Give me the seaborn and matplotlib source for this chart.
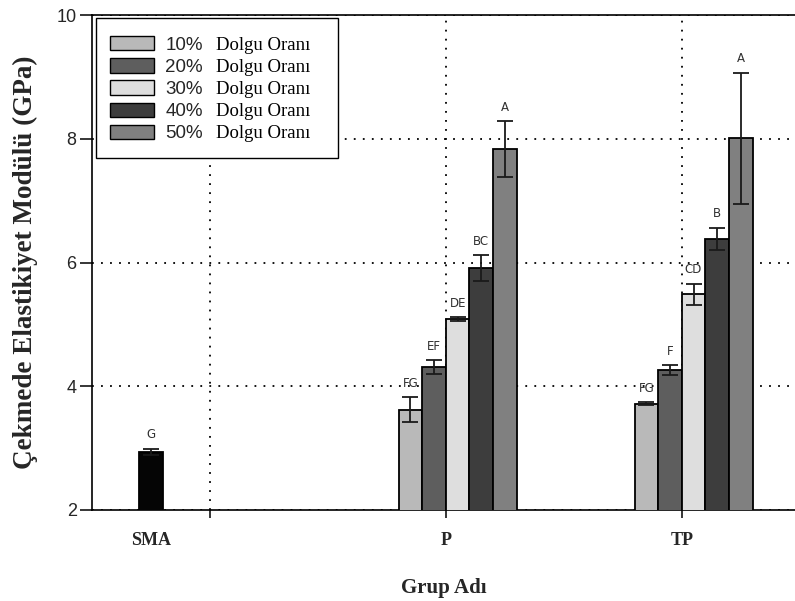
import matplotlib
matplotlib.use("Agg")
import matplotlib.pyplot as plt
from matplotlib.patches import Patch, Rectangle
import seaborn as sns
import pandas as pd

# ---------------- data ----------------
groups = ["SMA", "P", "TP"]
fill_levels = ["10%", "20%", "30%", "40%", "50%"]
fill_suffix = "Dolgu Oranı"

sma_value = [2.94]
sma_err = [0.05]
sma_letter = ["G"]

p_values = [3.62, 4.31, 5.09, 5.91, 7.83]
p_err = [0.20, 0.11, 0.03, 0.21, 0.45]
p_letters = ["FG", "EF", "DE", "BC", "A"]

tp_values = [3.72, 4.26, 5.49, 6.38, 8.01]
tp_err = [0.02, 0.08, 0.17, 0.18, 1.06]
tp_letters = ["FG", "F", "CD", "B", "A"]

y_ticks = [2, 4, 6, 8, 10]
x_label = "Grup Adı"
y_label = "Çekmede Elastikiyet Modülü (GPa)"

# ---------------- layout / style ----------------
group_start = {"SMA": 2.0, "P": 13.0, "TP": 23.0}   # left edge of first bar
group_label_pos = {"SMA": 2.5, "P": 15.0, "TP": 25.0}
minor_tick_pos = [5, 15, 25]
colors = {"SMA": "#050505", "10%": "#b9b9b9", "20%": "#5e5e5e",
          "30%": "#dedede", "40%": "#3d3d3d", "50%": "#808080"}

rows = []
rows.append(dict(group="SMA", level="SMA", x=group_start["SMA"] + 0.5,
                 value=sma_value[0], err=sma_err[0], letter=sma_letter[0]))
for g, vals, errs, lets in [("P", p_values, p_err, p_letters),
                            ("TP", tp_values, tp_err, tp_letters)]:
    for i, lev in enumerate(fill_levels):
        rows.append(dict(group=g, level=lev, x=group_start[g] + 0.5 + i,
                         value=vals[i], err=errs[i], letter=lets[i]))
df = pd.DataFrame(rows)

sns.set_theme(style="white")
plt.rcParams["font.family"] = ["Liberation Sans", "DejaVu Sans"]

W, H = 795, 601
fig = plt.figure(figsize=(7.95, 6.01), dpi=100)
ax_l, ax_b, ax_w, ax_h = 92, 91, 703, 495
ax = fig.add_axes([ax_l / W, ax_b / H, ax_w / W, ax_h / H])


def px_to_axes(xp, yp):
    """image pixel (from top-left) -> axes fraction"""
    return (xp - ax_l) / ax_w, ((H - yp) - ax_b) / ax_h


sns.barplot(data=df, x="x", y="value", hue="level",
            hue_order=["SMA"] + fill_levels, palette=colors,
            native_scale=True, dodge=False, width=1.0,
            edgecolor="black", linewidth=1.3, errorbar=None,
            legend=False, ax=ax, zorder=3)

ax.errorbar(df["x"], df["value"], yerr=df["err"], fmt="none",
            ecolor="#1a1a1a", elinewidth=1.3, capsize=5.5, capthick=1.3,
            zorder=4)

for _, r in df.iterrows():
    ax.annotate(r["letter"], (r["x"], r["value"] + r["err"]),
                xytext=(0, 10), textcoords="offset points",
                ha="center", va="center", fontsize=8.5,
                color="#303030", family=["DejaVu Sans"], zorder=5)

ax.set_xlim(0, 29.8)
ax.set_ylim(2, 10)
ax.set_yticks(y_ticks)
ax.set_yticklabels([str(t) for t in y_ticks], fontsize=13,
                   family=["Liberation Sans"])

ax.xaxis.remove_overlapping_locs = False
ax.set_xticks([group_label_pos[g] for g in groups])
ax.set_xticklabels(groups, fontsize=13, fontweight="bold",
                   family=["Liberation Serif"])
ax.set_xticks(minor_tick_pos, minor=True)
ax.tick_params(axis="x", which="major", length=0, pad=16)
ax.tick_params(axis="x", which="minor", length=6, width=1.1,
               direction="out", color="black", bottom=True)
ax.tick_params(axis="y", which="major", length=9, width=1.1,
               direction="out", color="black", left=True, pad=2)

ax.grid(False)
ax.yaxis.grid(True, which="major", linestyle=(0, (1, 4)),
              linewidth=1.3, color="black")
ax.xaxis.grid(True, which="minor", linestyle=(0, (1, 4)),
              linewidth=1.3, color="black")
ax.set_axisbelow(True)

for s in ["left", "bottom", "top"]:
    ax.spines[s].set_visible(True)
    ax.spines[s].set_color("black")
    ax.spines[s].set_linewidth(1.2)
ax.spines["right"].set_visible(False)

ax.set_xlabel(x_label, fontsize=15, fontweight="bold",
              family=["Liberation Serif"])
ax.xaxis.set_label_coords(0.5, -0.138)
ax.set_ylabel(y_label, fontsize=19.5, fontweight="bold",
              family=["Liberation Serif"])
ax.yaxis.set_label_coords(-0.077, 0.5)

# legend frame drawn as a box, legend entries without frame
fx0, fy0 = px_to_axes(96, 158)
fx1, fy1 = px_to_axes(338, 18)
ax.add_patch(Rectangle((fx0, fy0), fx1 - fx0, fy1 - fy0,
                       transform=ax.transAxes, facecolor="white",
                       edgecolor="black", linewidth=1.0, zorder=9,
                       clip_on=False))

handles = [Patch(facecolor=colors[l], edgecolor="black", linewidth=1.0)
           for l in fill_levels]
anchor = px_to_axes(110, 36)
leg = ax.legend(handles, fill_levels, loc="upper left",
                bbox_to_anchor=anchor, borderaxespad=0, borderpad=0,
                frameon=False,
                prop={"family": "Liberation Sans", "size": 13.5},
                handlelength=2.35, handleheight=0.8, handletextpad=0.6,
                labelspacing=0.24)
leg.set_zorder(10)

fig.canvas.draw()
inv = fig.transFigure.inverted()
for t in leg.get_texts():
    bb = t.get_window_extent()
    yc = (bb.y0 + bb.y1) / 2
    p2 = inv.transform((bb.x0 + 51, yc))
    fig.text(p2[0], p2[1], fill_suffix, ha="left", va="center",
             fontsize=13.5, family=["Liberation Serif"], color="black",
             zorder=11)

fig.savefig("out.png", dpi=100)
